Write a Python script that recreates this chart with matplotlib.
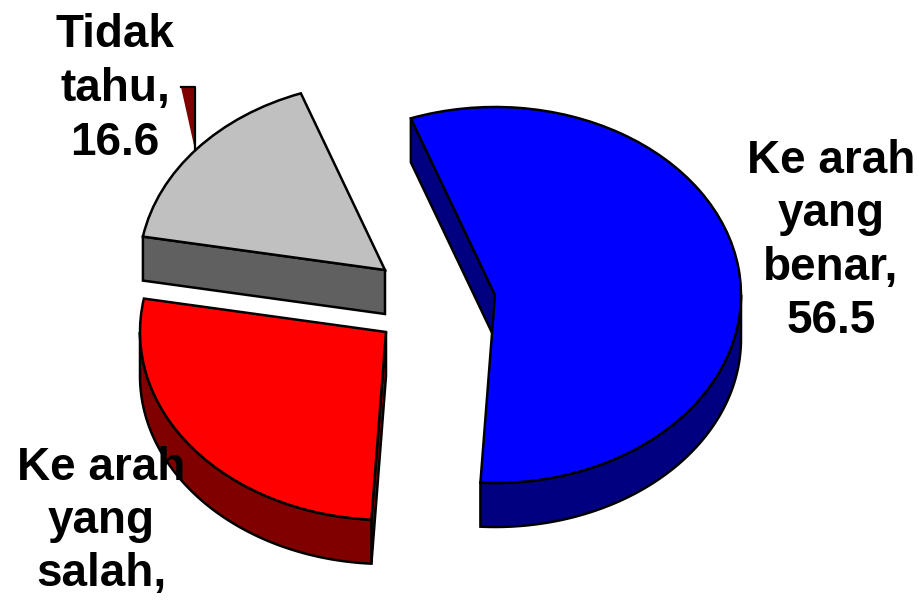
import numpy as np
import matplotlib
matplotlib.use("Agg")
import matplotlib.pyplot as plt
from matplotlib.transforms import Affine2D

categories = ["Ke arah yang benar", "Ke arah yang salah", "Tidak tahu"]
values = [56.5, 26.9, 16.6]
top_colors = ["#0000FF", "#FF0000", "#C0C0C0"]
wall_colors = ["#000080", "#800000", "#606060"]
centers = [(495, 295), (386, 332), (385, 270)]

START = -20.0          # degrees clockwise from 12 o'clock
RX, RY, DEPTH = 246, 188, 44
LW = 1.8

plt.rcParams["font.family"] = ["Liberation Sans", "DejaVu Sans"]
fig = plt.figure(figsize=(9.19, 6), dpi=100)
ax = fig.add_axes([0, 0, 1, 1])

# top faces through the pie layout, then squeezed to the tilted ellipse
wedges, _ = ax.pie(values, startangle=90 - START, counterclock=False, radius=1,
                   colors=top_colors,
                   wedgeprops=dict(edgecolor="black", linewidth=LW))
ax.set_aspect("auto")
ax.set_xlim(0, 919)
ax.set_ylim(600, 0)
ax.axis("off")


def pt(center, deg):
    r = np.radians(deg)
    return center[0] + RX * np.sin(r), center[1] - RY * np.cos(r)


edges = START + np.concatenate([[0], np.cumsum(values)]) * 3.6
for i, w in enumerate(wedges):
    c = centers[i]
    a0, a1 = edges[i], edges[i + 1]
    # cut wall at the start edge: the only one facing the viewer for these slices
    x, y = pt(c, a0)
    ax.fill([x, c[0], c[0], x], [y, c[1], c[1] + DEPTH, y + DEPTH],
            facecolor=wall_colors[i], edgecolor="black", linewidth=LW, zorder=2)
    # rim wall: only the part on the near side of the ellipse
    lo, hi = max(a0, 90), min(a1, 270)
    if hi > lo:
        t = np.linspace(lo, hi, 200)
        x, y = pt(c, t)
        ax.fill(np.r_[x, x[::-1]], np.r_[y, y[::-1] + DEPTH],
                facecolor=wall_colors[i], edgecolor="black", linewidth=LW, zorder=2)
    w.set_transform(Affine2D().scale(RX, -RY).translate(*c) + ax.transData)
    w.set_zorder(3)

# dark red leader sliver beside the "Tidak tahu" label
ax.fill([181, 195, 195], [87, 87, 150], facecolor="#800000", edgecolor="none", zorder=4)
ax.plot([181, 195, 195], [87, 87, 150], color="black", linewidth=1.6, zorder=4)

style = dict(fontsize=33, fontweight="bold", color="black", ha="center",
             va="center", zorder=5, multialignment="center")
ax.text(115, 89, "Tidak\ntahu,\n16.6", linespacing=1.28, **style)
ax.text(831, 241, "Ke arah\nyang\nbenar,\n56.5", linespacing=1.27, **style)
ax.text(101, 521, "Ke arah\nyang\nsalah,", linespacing=1.26, **style)

fig.savefig("out.png", dpi=100)
